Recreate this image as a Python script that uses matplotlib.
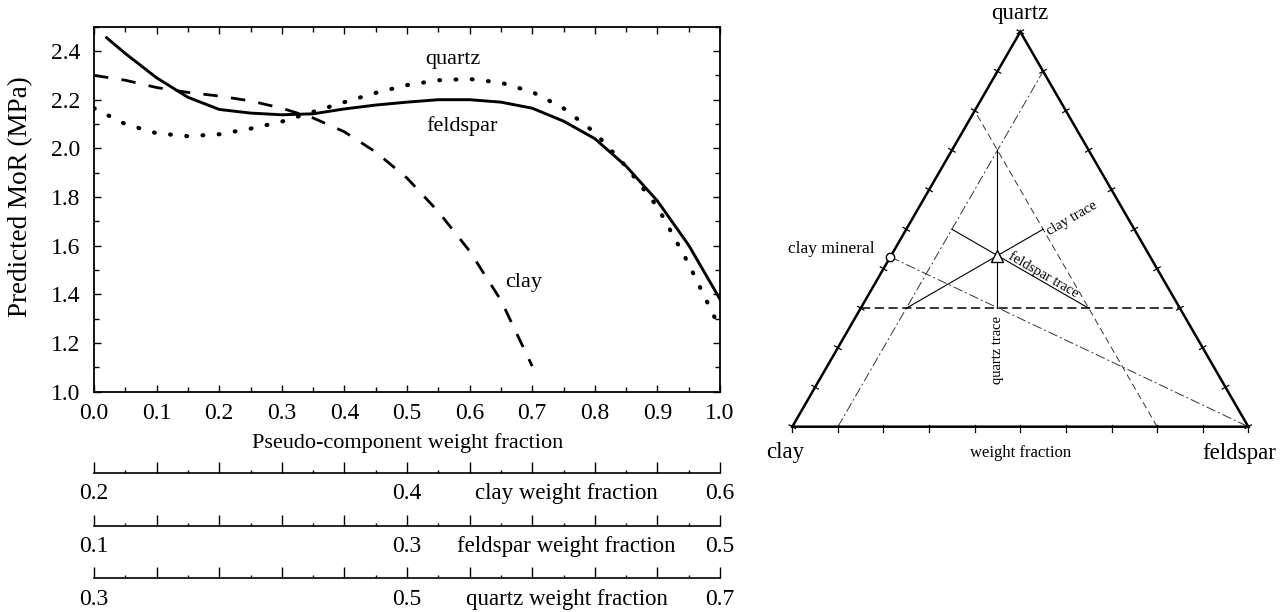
import numpy as np
import matplotlib
matplotlib.use("Agg")
import matplotlib.pyplot as plt
from matplotlib.ticker import MultipleLocator, FormatStrFormatter, FuncFormatter

plt.rcParams['font.family'] = ['Liberation Serif', 'DejaVu Serif']

W, H = 1287, 612  # output size in pixels (dpi 100)

# predicted MoR along the three component traces (pseudo-component fraction)
clay_x = [0.00, 0.05, 0.10, 0.15, 0.20, 0.25, 0.30, 0.35, 0.40, 0.45, 0.50,
          0.55, 0.60, 0.65, 0.70]
clay_mor = [2.30, 2.28, 2.25, 2.23, 2.215, 2.195, 2.165, 2.125, 2.068, 1.985,
            1.878, 1.74, 1.578, 1.376, 1.105]

feldspar_x = [0.02, 0.05, 0.10, 0.15, 0.20, 0.25, 0.30, 0.35, 0.40, 0.45, 0.50,
              0.55, 0.60, 0.65, 0.70, 0.75, 0.80, 0.85, 0.90, 0.95, 1.00]
feldspar_mor = [2.455, 2.39, 2.29, 2.21, 2.16, 2.145, 2.138, 2.142, 2.162, 2.178,
                2.19, 2.20, 2.20, 2.19, 2.165, 2.112, 2.04, 1.927, 1.784, 1.602, 1.38]

quartz_x = [0.00, 0.05, 0.10, 0.15, 0.20, 0.25, 0.30, 0.35, 0.40, 0.45, 0.50,
            0.55, 0.60, 0.65, 0.70, 0.75, 0.80, 0.85, 0.90, 0.95, 1.00]
quartz_mor = [2.165, 2.10, 2.062, 2.05, 2.058, 2.081, 2.11, 2.15, 2.19, 2.228,
              2.26, 2.28, 2.285, 2.27, 2.232, 2.165, 2.065, 1.925, 1.76, 1.525, 1.26]

# real weight fraction ranges behind the pseudo-components
components = ['clay', 'feldspar', 'quartz']
comp_lo = [0.2, 0.1, 0.3]
comp_span = 0.4

# composition of the clay mineral, (clay, feldspar, quartz)
clay_mineral = (0.57, 0.0, 0.43)

fig = plt.figure(figsize=(W / 100, H / 100), dpi=100)
fig.patch.set_facecolor('white')

# ---------------- left: MoR vs pseudo-component fraction ----------------
ax = fig.add_axes([94 / W, 1 - 391.7 / H, 626 / W, 365 / H])
ax.plot(feldspar_x, feldspar_mor, color='k', lw=2.1)
ax.plot(clay_x, clay_mor, color='k', lw=2.0, ls=(0, (5.2, 4.8)))
ax.plot(quartz_x, quartz_mor, color='k', lw=3.0, ls=(0, (0.2, 3.7)),
        dash_capstyle='round')

ax.set_xlim(0, 1)
ax.set_ylim(1.0, 2.5)
ax.xaxis.set_major_locator(MultipleLocator(0.1))
ax.xaxis.set_minor_locator(MultipleLocator(0.05))
ax.yaxis.set_major_locator(MultipleLocator(0.2))
ax.yaxis.set_minor_locator(MultipleLocator(0.1))
ax.xaxis.set_major_formatter(FormatStrFormatter('%.1f'))
ax.yaxis.set_major_formatter(FormatStrFormatter('%.1f'))
ax.tick_params(which='both', direction='in', top=True, right=True, width=1.0,
               labelsize=17)
ax.tick_params(which='major', length=5)
ax.tick_params(which='minor', length=3.5)
ax.tick_params(axis='x', pad=8)
ax.tick_params(axis='y', pad=10)
for s in ax.spines.values():
    s.set_linewidth(1.3)

ax.text(0.574, 2.366, 'quartz', ha='center', va='center', fontsize=16)
ax.text(0.588, 2.09, 'feldspar', ha='center', va='center', fontsize=16)
ax.text(0.686, 1.448, 'clay', ha='center', va='center', fontsize=16)

fig.text(21 / W, 1 - 196.5 / H, 'Predicted MoR (MPa)', rotation=90,
         ha='center', va='center', fontsize=19.5)
fig.text(408 / W, 1 - 442.7 / H, 'Pseudo-component weight fraction',
         ha='center', va='center', fontsize=16)

# ---------------- extra scales: real weight fractions ----------------
scale_y = [472.7, 526.0, 578.3]
label_pad = 7.5
for name, lo, yl in zip(components, comp_lo, scale_y):
    sax = fig.add_axes([94 / W, 1 - yl / H, 626 / W, 0.001])
    sax.patch.set_visible(False)
    for side in ['left', 'right', 'top']:
        sax.spines[side].set_visible(False)
    sax.spines['bottom'].set_linewidth(1.2)
    sax.set_xlim(0, 1)
    sax.set_yticks([])
    sax.xaxis.set_major_locator(MultipleLocator(0.1))
    sax.xaxis.set_minor_locator(MultipleLocator(0.05))

    def fmt(p, pos, lo=lo):
        if min(abs(p - 0.0), abs(p - 0.5), abs(p - 1.0)) < 1e-6:
            return '%.1f' % (lo + comp_span * p)
        return ''
    sax.xaxis.set_major_formatter(FuncFormatter(fmt))
    sax.tick_params(which='both', direction='in', width=1.0, labelsize=17,
                    pad=label_pad)
    sax.tick_params(which='major', length=8)
    sax.tick_params(which='minor', length=2)
    sax.annotate('%s weight fraction' % name, xy=(0.755, 0),
                 xycoords=('data', 'axes fraction'), xytext=(0, -label_pad),
                 textcoords='offset points', ha='center', va='top', fontsize=16.5)

# ---------------- right: ternary diagram ----------------
tax = fig.add_axes([760 / W, 142 / H, 527 / W, 470 / H])
tax.set_xlim((760 - 792.3) / 456, (1287 - 792.3) / 456)
tax.set_ylim((426.7 - 470) / 456, 426.7 / 456)
tax.axis('off')

R3 = np.sqrt(3) / 2


def tern(points):
    pts = np.atleast_2d(np.asarray(points, dtype=float))
    c, f, q = pts[:, 0], pts[:, 1], pts[:, 2]
    return f + q / 2, q * R3


# outline
tx, ty = tern([(1, 0, 0), (0, 1, 0), (0, 0, 1), (1, 0, 0)])
tax.plot(tx, ty, color='k', lw=1.8, solid_joinstyle='miter', zorder=3)

# edge ticks every 0.1
fracs = np.round(np.arange(0, 1.01, 0.1), 2)
for v in fracs:
    bx, by = tern([(1 - v, v, 0)])
    tax.plot([bx[0], bx[0]], [by[0] + 0.004, by[0] - 0.012], color='k', lw=0.9)
    lx, ly = tern([(1 - v, 0, v)])
    tax.plot([lx[0] - 0.866 * 0.008, lx[0] + 0.866 * 0.008],
             [ly[0] + 0.5 * 0.008, ly[0] - 0.5 * 0.008], color='k', lw=0.9)
    rx, ry = tern([(0, 1 - v, v)])
    tax.plot([rx[0] + 0.866 * 0.008, rx[0] - 0.866 * 0.008],
             [ry[0] + 0.5 * 0.008, ry[0] - 0.5 * 0.008], color='k', lw=0.9)

# lower bounds of each component
c_lo, f_lo, q_lo = comp_lo
tax.plot(*tern([(1 - q_lo, 0, q_lo), (0, 1 - q_lo, q_lo)]), color='k', lw=1.1,
         ls=(0, (6, 3)))
tax.plot(*tern([(1 - f_lo, f_lo, 0), (0, f_lo, 1 - f_lo)]), color='0.2', lw=0.7,
         ls=(0, (10, 3, 2, 3)))
tax.plot(*tern([(c_lo, 1 - c_lo, 0), (c_lo, 0, 1 - c_lo)]), color='0.2', lw=0.7,
         ls=(0, (7, 4)))

# clay mineral to feldspar apex
tax.plot(*tern([clay_mineral, (0, 1, 0)]), color='0.2', lw=0.7,
         ls=(0, (10, 3, 2, 3)))

# component traces through the centroid of the constrained region
lo = np.array(comp_lo)
for k in range(3):
    start = np.full(3, 0.5)
    start[k] = 0.0
    end = np.zeros(3)
    end[k] = 1.0
    tax.plot(*tern([lo + comp_span * start, lo + comp_span * end]),
             color='k', lw=0.8)

centroid = lo + comp_span / 3
tax.plot(*tern([centroid]), marker='^', ms=8, mfc='white', mec='k', mew=1.0,
         ls='none', zorder=4)
mx, my = tern([clay_mineral])
tax.plot(mx, my, marker='o', ms=6, mfc='white', mec='k',
         mew=1.0, ls='none', zorder=4)

tax.annotate('clay mineral', xy=(mx[0], my[0]), xytext=(-11, 6),
             textcoords='offset points', ha='right', va='center', fontsize=12.5)
tax.text(0.6127, 0.457, 'clay trace', rotation=30, rotation_mode='anchor',
         ha='center', va='center', fontsize=10.5)
tax.text(0.5504, 0.3327, 'feldspar trace', rotation=-30, rotation_mode='anchor',
         ha='center', va='center', fontsize=10.5)
tax.text(0.4496, 0.168, 'quartz trace', rotation=90, rotation_mode='anchor',
         ha='center', va='center', fontsize=10.5)
tax.text(0.5009, -0.057, 'weight fraction', ha='center', va='center', fontsize=12)
tax.text(-0.016, -0.0555, 'clay', ha='center', va='center', fontsize=16.5)
tax.text(0.9796, -0.0577, 'feldspar', ha='center', va='center', fontsize=16.5)
tax.text(0.4978, 0.9066, 'quartz', ha='center', va='center', fontsize=16.5)

fig.savefig('out.png', dpi=100)
